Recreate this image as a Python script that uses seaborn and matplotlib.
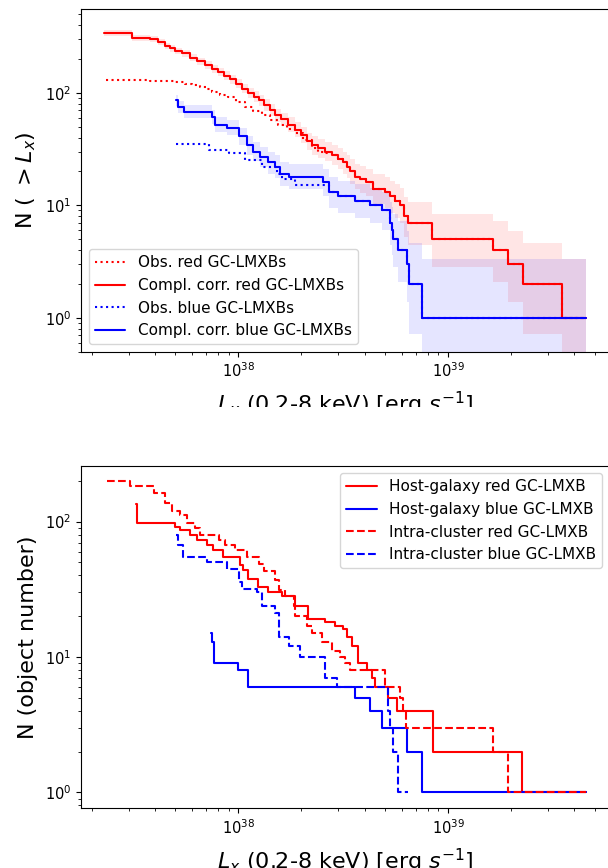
import numpy as np
import pandas as pd
import matplotlib
matplotlib.use("Agg")
import matplotlib.pyplot as plt
import seaborn as sns
from matplotlib.transforms import Bbox, TransformedBbox

E38 = 1e38  # luminosities below are in units of 1e38 erg/s

# ---------------- Top panel: cumulative XLFs N(>L) ----------------
red_corr_L = [0.230, 0.312, 0.381, 0.416, 0.449, 0.474, 0.501, 0.541, 0.591, 0.638,
              0.697, 0.752, 0.803, 0.858, 0.916, 0.978, 1.045, 1.116, 1.191, 1.259,
              1.330, 1.420, 1.500, 1.602, 1.730, 1.868, 1.995, 2.131, 2.251, 2.404,
              2.596, 2.803, 2.993, 3.162, 3.304, 3.413, 3.606, 3.811, 4.070, 4.393,
              5.012, 5.296, 5.593, 5.908, 6.172, 6.449, 8.36, 16.43, 19.37, 22.69,
              34.77, 45.27]
red_corr_N = [341, 305, 298, 285, 262, 248, 235, 224, 205, 190,
              176, 163, 154, 142, 132, 120, 109, 100, 92, 86,
              78, 70, 63, 58, 52, 47, 42, 37, 34, 32,
              30, 28, 26, 24, 22, 20, 18, 17, 16, 14,
              13, 12, 11, 10, 8, 7, 5, 4, 3, 2,
              1, 1]

red_obs_L = [0.233, 0.323, 0.381, 0.449, 0.501, 0.559, 0.604, 0.659, 0.704, 0.752,
             0.821, 0.896, 0.978, 1.080, 1.179, 1.301, 1.420, 1.551, 1.711, 1.868,
             2.040, 2.251, 2.404, 2.596, 2.803, 2.993, 3.162, 3.304, 3.413, 3.606,
             3.811, 4.070, 4.393, 5.012, 5.296, 5.593, 5.908, 6.172, 6.449, 8.36,
             16.43, 19.37, 22.69, 34.77, 45.27]
red_obs_N = [131, 130, 128, 126, 124, 120, 117, 112, 107, 102,
             96, 91, 83, 75, 69, 63, 57, 52, 48, 44,
             38, 32, 30, 29, 28, 26, 24, 22, 20, 18,
             17, 16, 14, 13, 12, 11, 10, 8, 7, 5,
             4, 3, 2, 1, 1]

blue_corr_L = [0.507, 0.518, 0.549, 0.749, 0.771, 0.883, 1.003, 1.100, 1.179, 1.273,
               1.389, 1.500, 1.585, 1.737, 2.548, 2.692, 3.004, 3.606, 4.254, 4.834,
               5.296, 5.411, 5.494, 5.800, 6.356, 6.543, 7.499, 45.27]
blue_corr_N = [86, 75, 68, 61, 52, 49, 41, 34, 30, 27,
               24, 22, 19, 18, 16, 13, 12, 11, 10, 9,
               7, 6, 5, 4, 3, 2, 1, 1]

blue_obs_L = [0.507, 0.722, 0.899, 1.080, 1.297, 1.528, 1.615, 1.868, 2.692, 3.004,
              3.606, 4.254, 4.834, 5.296, 5.411, 5.494, 5.800, 6.356, 6.543, 7.499,
              45.27]
blue_obs_N = [35, 31, 29, 25, 22, 19, 17, 15, 13, 12,
              11, 10, 9, 7, 6, 5, 4, 3, 2, 1,
              1]

# ---------------- Bottom panel ----------------
host_red_L = [0.326, 0.329, 0.501, 0.530, 0.591, 0.638, 0.712, 0.760, 0.848, 1.022,
              1.056, 1.116, 1.245, 1.389, 1.615, 1.868, 2.154, 2.596, 2.897, 3.162,
              3.304, 3.490, 3.728, 4.112, 4.345, 4.490, 5.198, 5.698, 8.453, 22.43,
              45.27]
host_red_N = [134, 97, 92, 87, 80, 73, 67, 62, 55, 48,
              44, 38, 33, 30, 28, 24, 19, 18, 17, 16,
              14, 12, 9, 8, 7, 6, 5, 4, 2, 1,
              1]

host_blue_L = [0.744, 0.752, 0.763, 0.997, 1.112, 3.606, 4.254, 4.834, 6.356, 7.499, 45.27]
host_blue_N = [15, 13, 9, 8, 6, 5, 4, 3, 2, 1, 1]

intra_red_L = [0.237, 0.306, 0.395, 0.449, 0.483, 0.530, 0.570, 0.624, 0.659, 0.805,
               0.867, 0.968, 1.100, 1.250, 1.320, 1.500, 1.556, 1.675, 1.834, 1.868,
               2.124, 2.244, 2.504, 2.793, 3.060, 3.233, 3.413, 5.012, 5.908, 6.105,
               6.310, 16.32, 19.37, 45.27]
intra_red_N = [200, 182, 162, 137, 119, 112, 98, 89, 80, 73,
               67, 62, 55, 49, 43, 37, 31, 28, 24, 20,
               17, 15, 13, 11, 10, 9, 8, 6, 5, 4,
               3, 2, 1, 1]

intra_blue_L = [0.507, 0.515, 0.543, 0.710, 0.883, 1.003, 1.041, 1.227, 1.297, 1.500,
                1.556, 1.737, 1.973, 2.596, 2.951, 5.198, 5.296, 5.470, 5.800, 6.472]
intra_blue_N = [80, 67, 55, 50, 45, 36, 32, 30, 24, 21,
                14, 12, 10, 7, 6, 4, 3, 2, 1, 1]

# ---------------- Style ----------------
sns.set_style("ticks")
plt.rcParams.update({
    "font.family": ["DejaVu Sans"],
    "mathtext.fontset": "dejavusans",
    "axes.edgecolor": "black",
    "axes.labelcolor": "black",
    "text.color": "black",
    "xtick.color": "black", "ytick.color": "black",
    "xtick.direction": "out", "ytick.direction": "out",
    "xtick.major.size": 3.5, "ytick.major.size": 3.5,
    "xtick.minor.size": 2.0, "ytick.minor.size": 2.0,
    "xtick.major.width": 0.8, "ytick.major.width": 0.8,
    "xtick.minor.width": 0.6, "ytick.minor.width": 0.6,
    "axes.linewidth": 0.8,
})

W, H = 608, 868
fig = plt.figure(figsize=(W / 100, H / 100), dpi=100)


def axes_px(left, top, right, bottom):
    return fig.add_axes([left / W, 1 - bottom / H, (right - left) / W, (bottom - top) / H])


ax1 = axes_px(81, 9, 610, 352)
ax2 = axes_px(81, 465.7, 610, 808.3)
for ax in (ax1, ax2):
    ax.set_xscale("log")
    ax.set_yscale("log")


def gehrels(n):
    n = np.asarray(n, float)
    up = n + np.sqrt(n + 0.75) + 1.0
    lo = n * (1 - 1 / (9 * n) - 1 / (3 * np.sqrt(n))) ** 3
    return lo, up


def band(ax, L, N, color):
    lo, up = gehrels(N)
    ax.fill_between(np.asarray(L) * E38, lo, up, step="post", color=color,
                    alpha=0.1, lw=0)


def step_line(ax, L, N, color, ls, label):
    df = pd.DataFrame({"L": np.asarray(L) * E38, "N": np.asarray(N, float)})
    sns.lineplot(data=df, x="L", y="N", ax=ax, color=color, linestyle=ls, lw=1.5,
                 drawstyle="steps-post", estimator=None, sort=False, label=label)


# Top panel
band(ax1, red_corr_L, red_corr_N, "red")
band(ax1, blue_corr_L, blue_corr_N, "blue")
step_line(ax1, red_obs_L, red_obs_N, "red", ":", "Obs. red GC-LMXBs")
step_line(ax1, red_corr_L, red_corr_N, "red", "-", "Compl. corr. red GC-LMXBs")
step_line(ax1, blue_obs_L, blue_obs_N, "blue", ":", "Obs. blue GC-LMXBs")
step_line(ax1, blue_corr_L, blue_corr_N, "blue", "-", "Compl. corr. blue GC-LMXBs")

ax1.set_xlim(1.778e37, 5.92e39)
ax1.set_ylim(0.496, 555)
ax1.legend(loc="lower left", fontsize=11)
ax1.set_xlabel(r"$L_x$ (0.2-8 keV) [erg $s^{-1}$]", fontsize=16, labelpad=7)
ax1.set_ylabel(r"N ( $>L_x$)", fontsize=16, labelpad=5)

# Bottom panel
step_line(ax2, host_red_L, host_red_N, "red", "-", "Host-galaxy red GC-LMXB")
step_line(ax2, host_blue_L, host_blue_N, "blue", "-", "Host-galaxy blue GC-LMXB")
step_line(ax2, intra_red_L, intra_red_N, "red", "--", "Intra-cluster red GC-LMXB")
step_line(ax2, intra_blue_L, intra_blue_N, "blue", "--", "Intra-cluster blue GC-LMXB")

ax2.set_xlim(1.778e37, 5.92e39)
ax2.set_ylim(0.762, 259)
ax2.legend(loc="upper right", fontsize=11)
ax2.set_xlabel(r"$L_x$ (0.2-8 keV) [erg $s^{-1}$]", fontsize=16, labelpad=7)
ax2.set_ylabel("N (object number)", fontsize=16, labelpad=5)

for ax in (ax1, ax2):
    ax.tick_params(axis="both", which="both", labelsize=10.5)

# the top x-label is cut off at the bottom in the reference
clip = TransformedBbox(Bbox([[0, 1 - 407 / H], [1, 1]]), fig.transFigure)
ax1.xaxis.label.set_clip_box(clip)
ax1.xaxis.label.set_clip_on(True)

fig.savefig("out.png", dpi=100)
